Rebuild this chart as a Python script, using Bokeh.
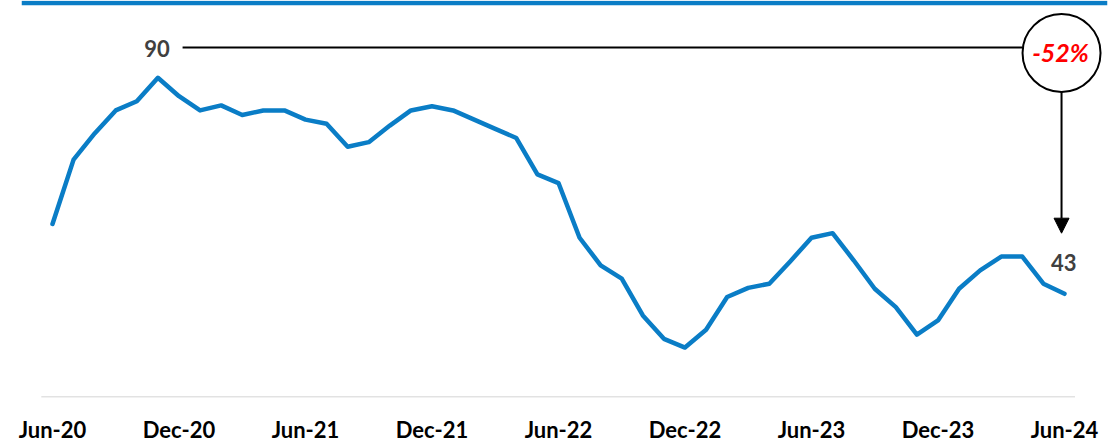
from bokeh.plotting import figure
from bokeh.models import ColumnDataSource, FixedTicker, Span, Arrow, NormalHead, Range1d
from bokeh.core.properties import value
from bokeh.embed import file_html
from bokeh.resources import INLINE

# ---- data ----
months = ["Jun-20", "Jul-20", "Aug-20", "Sep-20", "Oct-20", "Nov-20", "Dec-20",
          "Jan-21", "Feb-21", "Mar-21", "Apr-21", "May-21", "Jun-21",
          "Jul-21", "Aug-21", "Sep-21", "Oct-21", "Nov-21", "Dec-21",
          "Jan-22", "Feb-22", "Mar-22", "Apr-22", "May-22", "Jun-22",
          "Jul-22", "Aug-22", "Sep-22", "Oct-22", "Nov-22", "Dec-22",
          "Jan-23", "Feb-23", "Mar-23", "Apr-23", "May-23", "Jun-23",
          "Jul-23", "Aug-23", "Sep-23", "Oct-23", "Nov-23", "Dec-23",
          "Jan-24", "Feb-24", "Mar-24", "Apr-24", "May-24", "Jun-24"]
values = [58.2, 72.2, 77.9, 82.9, 84.9, 90.0, 86.0,
          82.9, 84.0, 81.9, 82.9, 82.9, 80.9,
          80.0, 75.0, 76.0, 79.6, 82.9, 83.8,
          82.9, 80.9, 78.9, 76.9, 69.0, 67.1,
          55.2, 49.2, 46.3, 38.3, 33.2, 31.3,
          35.2, 42.3, 44.3, 45.2, 50.1, 55.2,
          56.2, 50.3, 44.1, 40.1, 34.1, 37.2,
          44.1, 48.1, 51.1, 51.1, 45.2, 43.0]
tick_labels = ["Jun-20", "Dec-20", "Jun-21", "Dec-21", "Jun-22",
               "Dec-22", "Jun-23", "Dec-23", "Jun-24"]
peak_value = 90
last_value = 43
change_label = "-52%"

BLUE = "#0a7dc6"
GRAY_TXT = "#404040"

idx = list(range(len(values)))
src = ColumnDataSource(dict(x=idx, y=values))

p = figure(frame_width=1086, frame_height=397,
           min_border_left=21, min_border_right=2, min_border_top=0, min_border_bottom=45,
           x_range=Range1d(-1.47, 50.04), y_range=Range1d(20.44, 106.82),
           output_backend="svg", toolbar_location=None)
p.outline_line_color = None
p.background_fill_color = "white"
p.grid.visible = False
p.yaxis.visible = False

# x axis labels
tick_pos = [months.index(t) for t in tick_labels]
p.xaxis.ticker = FixedTicker(ticks=tick_pos)
p.xaxis.major_label_overrides = {i: t for i, t in zip(tick_pos, tick_labels)}
p.xaxis.axis_line_color = None
p.xaxis.major_tick_line_color = None
p.xaxis.minor_tick_line_color = None
p.xaxis.major_label_text_font = "Lato"
p.xaxis.major_label_text_font_style = "bold"
p.xaxis.major_label_text_font_size = "22px"
p.xaxis.major_label_text_color = "black"
p.xaxis.major_label_standoff = 12

# top blue rule
p.add_layout(Span(location=106.3, dimension="width", line_color=BLUE, line_width=4.5))

# baseline
p.segment(x0=[-0.53], y0=[20.55], x1=[48.5], y1=[20.55], line_color="#d9d9d9", line_width=1.5)

# main line
p.line("x", "y", source=src, line_color=BLUE, line_width=4.5, line_join="round", line_cap="round")

# annotation: peak level line
p.segment(x0=[6.17], y0=[96.59], x1=[46.0], y1=[96.59], line_color="black", line_width=2)
p.text(x=[4.957], y=[96.27], text=[str(peak_value)], text_font=value("Lato"),
       text_font_style="bold", text_font_size="22px", text_color=GRAY_TXT,
       text_align="center", text_baseline="middle")

# vertical arrow
p.add_layout(Arrow(end=NormalHead(size=15, fill_color="black", line_color="black"),
                   x_start=47.86, y_start=87.0, x_end=47.86, y_end=56.19,
                   line_color="black", line_width=2))

# circle with change
p.scatter(x=[47.86], y=[95.40], size=78, marker="circle", fill_color="white",
          line_color="black", line_width=2)
p.text(x=[47.81], y=[95.51], text=[change_label], text_font=value("Lato"),
       text_font_style="bold italic", text_font_size="25px", text_color="#ff0000",
       text_align="center", text_baseline="middle")

# last value label
p.text(x=[47.97], y=[49.71], text=[str(last_value)], text_font=value("Lato"),
       text_font_style="bold", text_font_size="22px", text_color=GRAY_TXT,
       text_align="center", text_baseline="middle")

open("out.html", "w").write(file_html(p, INLINE))
